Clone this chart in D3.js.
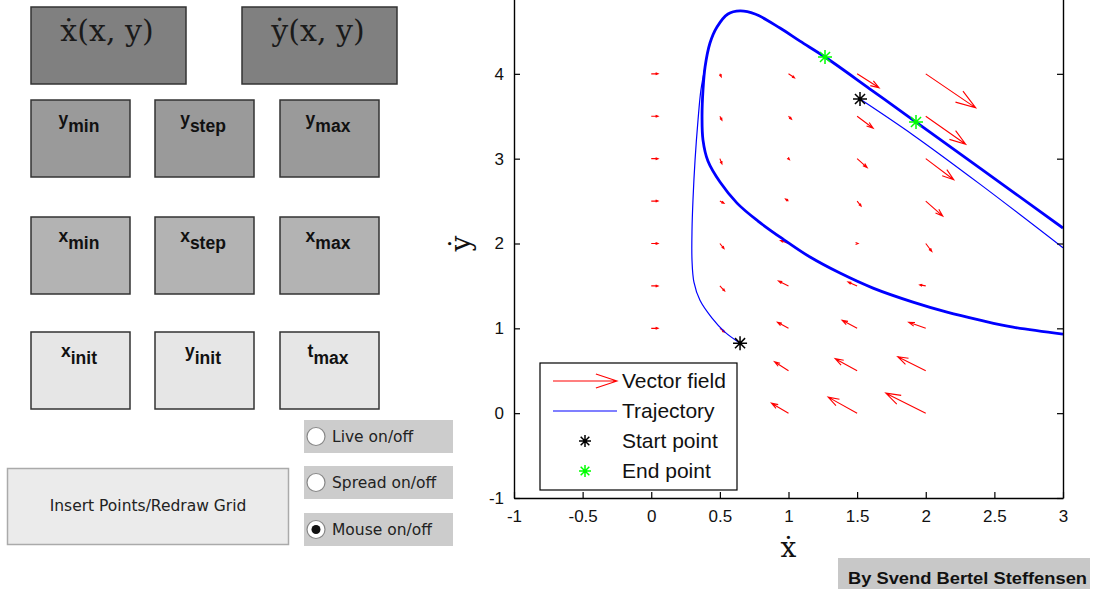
<!DOCTYPE html>
<html>
<head>
<meta charset="utf-8">
<script src="https://cdn.jsdelivr.net/npm/d3@7"></script>
<style>
	body { margin: 0; background: #fff; }
	svg { display: block; }
</style>
</head>
<body>
<svg id="fig" width="1094" height="589"></svg>
<script>
// quiver grid
const gridX = [0, 0.5, 1, 1.5, 2];
const gridY = [4, 3.5, 3, 2.5, 2, 1.5, 1, 0.5, 0];
// arrow components, one row per gridY value, one column per gridX value (null = under the legend)
const fieldU = [
	[0.05, 0.010, 0.044, 0.160, 0.364],
	[0.05, 0.015, 0.022, 0.117, 0.291],
	[0.05, 0.015, 0.007, 0.073, 0.204],
	[0.05, 0.030, -0.022, 0.029, 0.124],
	[0.05, 0.030, -0.058, 0.007, 0.044],
	[0.05, 0.035, -0.073, -0.066, -0.044],
	[0.05, 0.035, -0.080, -0.109, -0.124],
	[null, null, -0.102, -0.160, -0.204],
	[null, null, -0.124, -0.211, -0.291]
];
const fieldV = [
	[0, -0.035, -0.047, -0.165, -0.401],
	[0, -0.047, -0.035, -0.142, -0.330],
	[0, -0.060, -0.012, -0.106, -0.248],
	[0, -0.025, 0.024, -0.059, -0.177],
	[0, -0.060, 0.035, 0, -0.094],
	[0, -0.060, 0.059, 0.047, 0.012],
	[0, -0.045, 0.071, 0.094, 0.071],
	[null, null, 0.106, 0.142, 0.165],
	[null, null, 0.118, 0.189, 0.236]
];

// trajectories
const trajLoop = [
	[3.000, 0.932], [2.636, 1.014], [2.395, 1.097], [2.155, 1.191], [1.907, 1.309],
	[1.616, 1.474], [1.375, 1.651], [1.157, 1.840], [0.960, 2.052], [0.778, 2.264],
	[0.625, 2.476], [0.501, 2.724], [0.413, 2.972], [0.377, 3.219], [0.370, 3.491],
	[0.377, 3.809], [0.392, 4.080], [0.428, 4.363], [0.479, 4.552], [0.559, 4.705],
	[0.647, 4.741], [0.756, 4.705], [0.938, 4.540], [1.084, 4.385], [1.266, 4.198],
	[1.594, 3.821], [1.929, 3.432], [2.395, 2.889], [3.000, 2.182]
];
const trajLow = [
	[0.647, 0.825], [0.537, 0.955], [0.443, 1.12], [0.355, 1.33], [0.311, 1.545],
	[0.297, 1.80], [0.297, 2.16], [0.304, 2.51], [0.319, 2.98], [0.341, 3.46],
	[0.362, 3.81], [0.392, 4.08]
];
const trajHigh = [[1.521, 3.703], [1.907, 3.28], [2.395, 2.70], [3.0, 1.95]];
const startPoints = [[1.521, 3.703], [0.647, 0.825]];
const endPoints = [[1.266, 4.198], [1.929, 3.432]];

const xTicks = [-1, -0.5, 0, 0.5, 1, 1.5, 2, 2.5, 3];
const yTicks = [-1, 0, 1, 2, 3, 4];
const legendLabels = ['Vector field', 'Trajectory', 'Start point', 'End point'];

// left panel controls
const titleLabels = ['\u1E8B(x, y)', '\u1E8F(x, y)'];
const paramLabels = [
	[['y', 'min'], ['y', 'step'], ['y', 'max']],
	[['x', 'min'], ['x', 'step'], ['x', 'max']],
	[['x', 'init'], ['y', 'init'], ['t', 'max']]
];
const radioLabels = ['Live on/off', 'Spread on/off', 'Mouse on/off'];
const radioChecked = [false, false, true];
const buttonLabel = 'Insert Points/Redraw Grid';
const credit = 'By Svend Bertel Steffensen';

const svg = d3.select('#fig');
svg.append('rect').attr('width', 1094).attr('height', 589).attr('fill', '#fff');

const x = d3.scaleLinear().domain([-1, 3]).range([514, 1063]);
const y = d3.scaleLinear().domain([-1, 5]).range([498, -11]);

const tickFont = '"Liberation Sans", Arial, sans-serif';

// ---- left panel ----
const ui = svg.append('g');
titleLabels.forEach((t, i) => {
	const bx = [31, 242][i];
	ui.append('rect').attr('x', bx).attr('y', 7).attr('width', 155).attr('height', 77)
		.attr('fill', '#808080').attr('stroke', '#333').attr('stroke-width', 1.5);
	ui.append('text').attr('x', bx + 76).attr('y', 41)
		.attr('text-anchor', 'middle')
		.attr('font-family', '"DejaVu Serif", serif').attr('font-size', 30)
		.attr('fill', '#1a1a1a').text(t);
});

const rowTop = [100, 217, 332];
const colLeft = [31, 155, 280];
const rowFill = ['#9a9a9a', '#b3b3b3', '#e6e6e6'];
paramLabels.forEach((row, r) => {
	row.forEach((lab, c) => {
		ui.append('rect').attr('x', colLeft[c]).attr('y', rowTop[r]).attr('width', 99).attr('height', 77)
			.attr('fill', rowFill[r]).attr('stroke', '#333').attr('stroke-width', 1.5);
		const t = ui.append('text').attr('x', colLeft[c] + 48).attr('y', rowTop[r] + 25)
			.attr('text-anchor', 'middle')
			.attr('font-family', tickFont).attr('font-weight', 'bold').attr('font-size', 17.5)
			.attr('fill', '#111');
		t.append('tspan').text(lab[0]);
		t.append('tspan').attr('dy', 7).text(lab[1]);
	});
});

ui.append('rect').attr('x', 7.5).attr('y', 468.5).attr('width', 281).attr('height', 76)
	.attr('fill', '#ebebeb').attr('stroke', '#aaa').attr('stroke-width', 1.5);
ui.append('text').attr('x', 148).attr('y', 511).attr('text-anchor', 'middle')
	.attr('font-family', '"DejaVu Sans", sans-serif').attr('font-size', 15.5)
	.attr('fill', '#222').text(buttonLabel);

radioLabels.forEach((lab, i) => {
	const top = [420, 466, 513][i];
	ui.append('rect').attr('x', 304).attr('y', top).attr('width', 149).attr('height', 33)
		.attr('fill', '#cccccc');
	ui.append('circle').attr('cx', 316).attr('cy', top + 16.5).attr('r', 9)
		.attr('fill', '#fff').attr('stroke', '#888').attr('stroke-width', 1.2);
	if (radioChecked[i]) {
		ui.append('circle').attr('cx', 316).attr('cy', top + 16.5).attr('r', 4.5).attr('fill', '#111');
	}
	ui.append('text').attr('x', 332).attr('y', top + 22)
		.attr('font-family', '"DejaVu Sans", sans-serif').attr('font-size', 15.5)
		.attr('fill', '#222').text(lab);
});

ui.append('rect').attr('x', 838).attr('y', 558).attr('width', 252).attr('height', 31).attr('fill', '#c8c8c8');
ui.append('text').attr('x', 848).attr('y', 584)
	.attr('font-family', tickFont).attr('font-weight', 'bold').attr('font-size', 17)
	.attr('textLength', 239).attr('lengthAdjust', 'spacingAndGlyphs')
	.attr('fill', '#111').text(credit);

// ---- plot ----
svg.append('clipPath').attr('id', 'plotclip')
	.append('rect').attr('x', x(-1)).attr('y', y(5)).attr('width', x(3) - x(-1)).attr('height', y(-1) - y(5));
const plot = svg.append('g').attr('clip-path', 'url(#plotclip)');

// vector field arrows (tail at the grid point, open head)
const arrows = [];
gridY.forEach((gy, r) => {
	gridX.forEach((gx, c) => {
		if (fieldU[r][c] === null) return;
		arrows.push({ x0: gx, y0: gy, u: fieldU[r][c], v: fieldV[r][c] });
	});
});
const arrowPath = a => {
	const x0 = x(a.x0), y0 = y(a.y0);
	const x1 = x(a.x0 + a.u), y1 = y(a.y0 + a.v);
	const dx = x1 - x0, dy = y1 - y0;
	const len = Math.hypot(dx, dy) || 1;
	const ux = dx / len, uy = dy / len;
	const hl = Math.max(0.33 * len, 2.5), hw = Math.max(0.11 * len, 1);
	const bx = x1 - ux * hl, by = y1 - uy * hl;
	return 'M' + x0 + ',' + y0 + 'L' + x1 + ',' + y1 +
		'M' + (bx - uy * hw) + ',' + (by + ux * hw) + 'L' + x1 + ',' + y1 +
		'L' + (bx + uy * hw) + ',' + (by - ux * hw);
};
plot.selectAll('path.arrow').data(arrows).enter().append('path')
	.attr('class', 'arrow')
	.attr('d', arrowPath)
	.attr('fill', 'none').attr('stroke', '#ff0000').attr('stroke-width', 1.1);

const line = d3.line().x(d => x(d[0])).y(d => y(d[1])).curve(d3.curveCatmullRom);
plot.append('path').datum(trajLoop).attr('d', line)
	.attr('fill', 'none').attr('stroke', '#0000ff').attr('stroke-width', 2.8);
plot.append('path').datum(trajLow).attr('d', line)
	.attr('fill', 'none').attr('stroke', '#0000ff').attr('stroke-width', 1.2);
plot.append('path').datum(trajHigh).attr('d', line)
	.attr('fill', 'none').attr('stroke', '#0000ff').attr('stroke-width', 1.2);

const star = (g, cx, cy, col, r) => {
	const d = r * 0.72;
	g.append('path')
		.attr('d', `M${cx - r},${cy}H${cx + r}M${cx},${cy - r}V${cy + r}` +
			`M${cx - d},${cy - d}L${cx + d},${cy + d}M${cx - d},${cy + d}L${cx + d},${cy - d}`)
		.attr('stroke', col).attr('stroke-width', 1.5).attr('fill', 'none');
};
startPoints.forEach(p => star(plot, x(p[0]), y(p[1]), '#000', 7));
endPoints.forEach(p => star(plot, x(p[0]), y(p[1]), '#00ff00', 7));

// axes, MATLAB style: ticks inside, box on
const axStyle = g => {
	g.attr('font-family', tickFont).attr('font-size', 17);
	g.selectAll('.domain').attr('stroke', '#000').attr('stroke-width', 1.4);
	g.selectAll('.tick line').attr('stroke', '#000').attr('stroke-width', 1.2);
	g.selectAll('.tick text').attr('fill', '#111');
};
svg.append('g').attr('transform', `translate(0,${y(-1)})`)
	.call(d3.axisBottom(x).tickValues(xTicks).tickFormat(d => String(d))
		.tickSizeInner(-6).tickSizeOuter(0).tickPadding(12))
	.call(axStyle);
svg.append('g').attr('transform', `translate(${x(-1)},0)`)
	.call(d3.axisLeft(y).tickValues(yTicks).tickFormat(d => String(d))
		.tickSizeInner(-6).tickSizeOuter(0).tickPadding(10))
	.call(axStyle);
svg.append('g').attr('transform', `translate(${x(3)},0)`)
	.call(d3.axisLeft(y).tickValues(yTicks).tickFormat('')
		.tickSizeInner(6).tickSizeOuter(0))
	.call(axStyle);

svg.append('text').attr('x', x(1)).attr('y', 557).attr('text-anchor', 'middle')
	.attr('font-family', '"DejaVu Serif", serif').attr('font-size', 28)
	.attr('fill', '#111').text('\u1E8B');
svg.append('text').attr('transform', `translate(470,${y(2)}) rotate(-90)`).attr('text-anchor', 'middle')
	.attr('font-family', '"DejaVu Serif", serif').attr('font-size', 28)
	.attr('fill', '#111').text('\u1E8F');

// legend
const lg = svg.append('g');
lg.append('rect').attr('x', 540).attr('y', 363).attr('width', 197).attr('height', 127)
	.attr('fill', '#fff').attr('stroke', '#000').attr('stroke-width', 1.2);
legendLabels.forEach((lab, i) => {
	const cy = 381 + i * 30;
	lg.append('text').attr('x', 622).attr('y', cy + 7)
		.attr('font-family', tickFont).attr('font-size', 21)
		.attr('fill', '#111').text(lab);
});
lg.append('path').attr('d', arrowPath({ x0: x.invert(553), y0: y.invert(381), u: x.invert(617) - x.invert(553), v: 0 }))
	.attr('fill', 'none').attr('stroke', '#ff0000').attr('stroke-width', 1.1);
lg.append('line').attr('x1', 553).attr('x2', 617).attr('y1', 411).attr('y2', 411)
	.attr('stroke', '#0000ff').attr('stroke-width', 1.2);
star(lg, 585, 441, '#000', 6);
star(lg, 585, 471, '#00ff00', 6);
</script>
</body>
</html>
